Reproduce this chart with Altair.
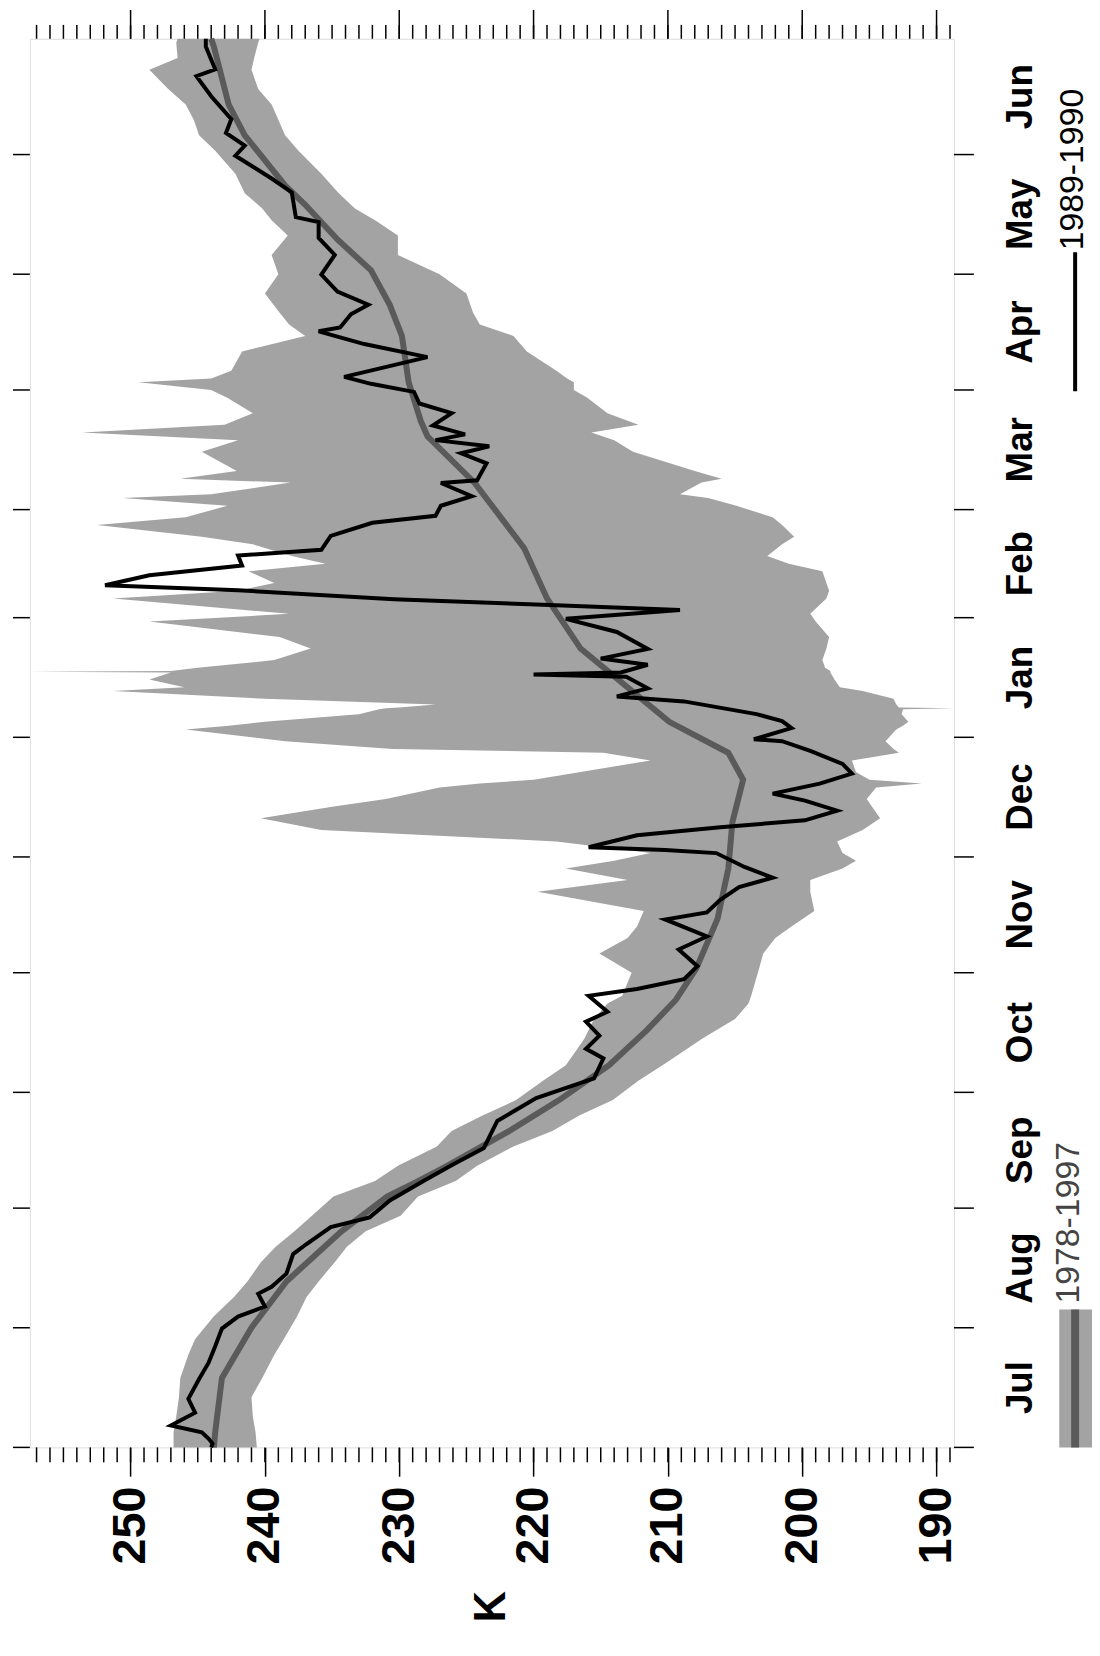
import altair as alt
import pandas as pd

# ---------------- data ----------------
month_names = ["Jul", "Aug", "Sep", "Oct", "Nov", "Dec", "Jan", "Feb", "Mar", "Apr", "May", "Jun"]
month_start = [0, 31, 62, 92, 123, 153, 184, 215, 243, 274, 304, 335]
season_len = 365

k_major = [190, 200, 210, 220, 230, 240, 250]
k_minor = list(range(189, 258))

# 1978-1997 mean (smooth dark grey curve), day after 1 July -> K
mean_day = [0, 4, 18, 31, 43, 56, 65, 69, 73, 82, 90, 99, 108, 116, 124, 137, 150, 162,
            173, 180, 188, 207, 220, 233, 250, 262, 266, 276, 288, 296, 305, 313, 322,
            327, 340, 348, 363, 365]
mean_k = [243.8, 243.7, 243.2, 241.0, 238.4, 234.3, 230.9, 228.6, 226.4, 221.8, 218.1,
          214.4, 211.6, 209.4, 207.9, 206.3, 205.5, 205.2, 204.4, 205.5, 209.9, 216.5,
          219.0, 220.7, 224.4, 227.9, 228.4, 229.3, 229.8, 230.7, 232.1, 234.6, 237.0,
          238.5, 241.5, 242.7, 243.8, 244.0]

# 1978-1997 range (light grey band)
band_day = [0, 4, 8, 13, 18, 24, 28, 34, 39, 43, 48, 52, 56, 60, 65, 69, 73, 78, 82, 86,
            90, 95, 99, 103, 106, 111, 115, 117, 123, 128, 132, 135, 139, 144, 147, 150,
            152, 154, 157, 160, 163, 166, 168, 171, 172, 173, 175, 178, 180, 181, 183,
            186, 187, 188, 190, 191.3, 191.5, 191.7, 192.5, 194, 196, 197, 199, 200.8,
            201, 201.2, 202, 204, 207, 210, 214, 216, 220, 222, 224, 227, 229, 231, 234,
            236, 239, 241, 244, 246, 247, 250, 251, 253, 258, 261, 263, 265, 268, 272,
            274, 276, 277, 279, 284, 288, 291, 294, 299, 304, 309, 314, 318, 321, 325,
            330, 336, 340, 344, 348, 352, 357, 360, 364, 365]
band_hi = [246.8, 246.8, 246.6, 246.4, 246.3, 245.7, 245.2, 243.8, 242.3, 241.3, 240.3,
           239.2, 237.8, 236.5, 234.9, 231.8, 230.1, 227.2, 226.1, 223.8, 221.3, 219.3,
           217.6, 216.8, 216.2, 215.5, 214.5, 213.4, 212.7, 215.1, 213.0, 212.3, 211.8,
           219.7, 213.0, 217.6, 214.0, 211.3, 218.3, 235.8, 240.3, 235.0, 231.0, 227.0,
           224.0, 220.0, 216.5, 211.3, 214.8, 230.5, 238.5, 245.9, 242.7, 240.0, 233.0,
           231.5, 231.0, 230.0, 227.3, 240.0, 251.3, 246.0, 248.6, 247.0, 257.5, 247.0,
           245.0, 239.3, 236.6, 238.9, 248.6, 238.2, 251.3, 242.0, 239.3, 241.2, 235.5,
           238.0, 240.9, 244.7, 252.5, 245.9, 242.8, 250.6, 244.0, 238.1, 246.3, 242.1,
           244.7, 242.0, 253.6, 243.0, 240.9, 242.8, 244.0, 249.4, 244.0, 242.5, 241.7,
           237.0, 238.2, 238.9, 240.0, 239.0, 239.5, 238.3, 239.5, 240.2, 241.5, 242.2,
           243.7, 244.9, 245.3, 245.9, 247.2, 248.6, 246.5, 246.6, 246.5]
band_lo = [240.6, 240.7, 240.9, 241.0, 240.2, 239.3, 238.6, 237.6, 236.9, 236.0, 234.8,
           233.9, 232.5, 229.9, 228.6, 225.8, 224.2, 221.5, 218.6, 216.6, 214.1, 212.2,
           210.4, 208.7, 207.4, 205.0, 204.0, 203.8, 203.3, 202.9, 202.0, 200.8, 199.1,
           199.4, 199.4, 197.0, 196.0, 197.0, 197.4, 195.5, 194.2, 194.8, 195.2, 194.5,
           191.1, 195.0, 196.0, 196.3, 192.8, 193.2, 193.8, 193.0, 192.5, 192.1, 192.6,
           192.5, 188.7, 192.8, 193.0, 193.2, 195.5, 197.2, 197.6, 197.9, 197.9, 197.9,
           198.3, 198.5, 198.2, 198.0, 199.0, 199.4, 198.2, 198.0, 198.2, 198.5, 201.0,
           202.6, 201.5, 200.6, 201.5, 202.2, 204.9, 207.0, 209.1, 207.5, 206.0, 208.0,
           212.6, 214.0, 215.7, 212.2, 214.5, 216.0, 217.0, 217.0, 217.5, 218.3, 220.5,
           221.5, 224.0, 224.5, 225.0, 227.0, 230.1, 230.1, 231.8, 233.3, 234.5, 235.8,
           237.5, 238.5, 239.0, 239.5, 240.5, 241.0, 240.8, 240.5, 240.4]

# 1989-1990 (black line)
y8990_day = [0, 1, 2.3, 3.9, 5.7, 9.0, 12.6, 17.7, 21.9, 26.2, 30.8, 33.9, 36.5, 39.8,
             41.6, 45.0, 50.1, 52.7, 57.1, 59.6, 64.0, 69.2, 73.3, 77.6, 84.6, 90.5, 95.6,
             100.8, 103.3, 106.7, 110.3, 112.9, 117.0, 118.8, 121.3, 124.7, 129.0, 132.4,
             136.8, 138.6, 141.9, 145.2, 147.6, 150.4, 154.0, 154.8, 155.5, 158.6, 160.7,
             162.5, 165.0, 167.6, 169.4, 172.0, 174.6, 177.1, 180.5, 183.0, 183.5, 186.4,
             188.2, 190.0, 193.3, 194.6, 196.7, 199.7, 200.3, 200.8, 202.8, 204.4, 206.9,
             211.3, 214.7, 217.0, 218.3, 219.8, 222.1, 223.4, 226.0, 228.5, 231.1, 232.6,
             236.2, 239.6, 241.4, 244.0, 246.5, 249.9, 250.6, 255.0, 257.6, 259.4, 261.0,
             262.5, 264.8, 268.0, 270.5, 273.5, 275.6, 277.4, 282.5, 285.9, 289.2, 290.2,
             293.6, 296.1, 299.5, 303.9, 309.0, 313.4, 317.5, 318.8, 325.2, 328.8, 334.7,
             337.3, 340.6, 344.2, 350.1, 355.3, 357.1, 363.0, 365]
y8990_k = [244.0, 243.9, 244.2, 244.7, 247.0, 245.2, 245.7, 244.9, 244.2, 243.7, 243.2,
           242.0, 240.0, 240.5, 239.5, 238.4, 237.9, 236.9, 235.1, 232.2, 230.7, 228.1,
           226.0, 223.7, 222.7, 219.8, 215.5, 214.8, 216.1, 215.1, 216.1, 214.5, 215.9,
           212.3, 208.8, 207.8, 209.2, 207.1, 210.2, 207.1, 206.1, 204.7, 202.2, 204.3,
           206.4, 210.2, 215.9, 212.3, 206.1, 199.8, 197.4, 199.8, 202.2, 198.7, 196.3,
           197.0, 199.4, 201.5, 203.6, 200.8, 201.5, 203.4, 208.8, 213.8, 211.5, 213.1,
           220.0, 213.5, 211.5, 215.0, 211.5, 213.8, 217.6, 209.1, 218.8, 230.4, 242.0,
           251.9, 248.6, 241.7, 242.0, 235.8, 235.1, 232.0, 227.3, 226.9, 224.6, 226.9,
           224.2, 223.5, 225.4, 223.3, 227.3, 225.1, 227.5, 226.1, 228.5, 228.9, 232.1,
           234.1, 227.9, 232.6, 236.0, 234.4, 233.6, 232.3, 234.6, 235.8, 234.8, 236.0,
           236.0, 237.7, 238.0, 239.5, 242.2, 241.5, 242.9, 242.5, 244.0, 245.1, 243.7,
           244.4, 244.4]

# ---------------- layout ----------------
W, H = 931, 1419
FONT = "Liberation Sans"

band_df = pd.DataFrame({"day": band_day, "hi": band_hi, "lo": band_lo})
mean_df = pd.DataFrame({"day": mean_day, "k": mean_k})
line_df = pd.DataFrame({"day": y8990_day, "k": y8990_k})
minor_df = pd.DataFrame({"k": k_minor})
major_df = pd.DataFrame({"k": k_major})
month_ends = month_start[1:] + [season_len]
month_df = pd.DataFrame({
    "name": month_names,
    "start": month_start,
    "mid": [(s + e) / 2 for s, e in zip(month_start, month_ends)],
})
one = pd.DataFrame({"a": [0]})

xs = alt.Scale(domain=[188.7, 257.5], reverse=True, nice=False, zero=False)
ys = alt.Scale(domain=[0, season_len], nice=False, zero=False)

x_axis = alt.Axis(
    orient="bottom", values=k_major, tickSize=29, tickWidth=1.5, tickColor="black",
    domain=False, grid=False, labelAngle=270, labelAlign="right", labelBaseline="middle",
    labelFont=FONT, labelFontWeight="bold", labelFontSize=47, labelColor="black",
    labelPadding=10, labelFlush=False, labelOverlap=False,
    title="K", titleAngle=270, titleFont=FONT, titleFontWeight="bold", titleFontSize=44,
    titleColor="black", titleX=W / 2, titleY=160, titleAlign="center", titleBaseline="middle",
)


def X(field):
    return alt.X(field, scale=xs, axis=x_axis)


band = alt.Chart(band_df).mark_area(color="#a3a3a3", orient="horizontal").encode(
    x=X("hi:Q"),
    x2="lo:Q",
    y=alt.Y("day:Q", scale=ys, axis=None),
)

mean_line = alt.Chart(mean_df).mark_line(color="#5a5a5a", strokeWidth=6).encode(
    x=X("k:Q"),
    y=alt.Y("day:Q", scale=ys, axis=None),
    order=alt.Order("day:Q"),
)

black_line = alt.Chart(line_df).mark_line(color="black", strokeWidth=4, strokeJoin="miter").encode(
    x=X("k:Q"),
    y=alt.Y("day:Q", scale=ys, axis=None),
    order=alt.Order("day:Q"),
)


# K axis minor / mirrored ticks
def k_ticks(df, y0, y1):
    return alt.Chart(df).mark_rule(color="black", strokeWidth=1.5).encode(
        x=X("k:Q"), y=alt.value(y0), y2=alt.value(y1))


tick_layers = [
    k_ticks(minor_df, H, H + 15),
    k_ticks(minor_df, 0, -14),
    k_ticks(major_df, 0, -29),
]


# month ticks on both sides
def m_ticks(x0, x1):
    return alt.Chart(month_df).mark_rule(color="black", strokeWidth=1.5).encode(
        y=alt.Y("start:Q", scale=ys, axis=None), x=alt.value(x0), x2=alt.value(x1))


month_labels = alt.Chart(month_df).mark_text(
    angle=270, align="center", baseline="middle", font=FONT, fontWeight="bold",
    fontSize=37, color="black").encode(
    y=alt.Y("mid:Q", scale=ys, axis=None), x=alt.value(W + 68), text="name:N")

# legend
leg_box = alt.Chart(one).mark_rect(color="#a3a3a3").encode(
    x=alt.value(1037), x2=alt.value(1070), y=alt.value(1280), y2=alt.value(H))
leg_mean = alt.Chart(one).mark_rule(color="#5a5a5a", strokeWidth=8).encode(
    x=alt.value(1053), y=alt.value(1280), y2=alt.value(H))
leg_txt1 = alt.Chart(one).mark_text(
    text="1978-1997", angle=270, align="left", baseline="middle", font=FONT,
    fontSize=34, color="#444444").encode(x=alt.value(1047), y=alt.value(1274))
leg_line = alt.Chart(one).mark_rule(color="black", strokeWidth=4).encode(
    x=alt.value(1053), y=alt.value(215), y2=alt.value(355))
leg_txt2 = alt.Chart(one).mark_text(
    text="1989-1990", angle=270, align="left", baseline="middle", font=FONT,
    fontSize=34, color="black").encode(x=alt.value(1051), y=alt.value(213))

chart = alt.layer(
    band, mean_line, black_line, *tick_layers, m_ticks(W, W + 20), m_ticks(0, -17),
    month_labels, leg_box, leg_mean, leg_txt1, leg_line, leg_txt2,
).properties(
    width=W, height=H,
    autosize=alt.AutoSizeParams(type="none"),
    padding={"left": 22, "top": 25, "right": 139, "bottom": 188},
).configure_view(
    stroke="black", strokeWidth=1.5
).configure(background="white")

chart.save("out.html", embed_options={"renderer": "svg", "actions": False})
